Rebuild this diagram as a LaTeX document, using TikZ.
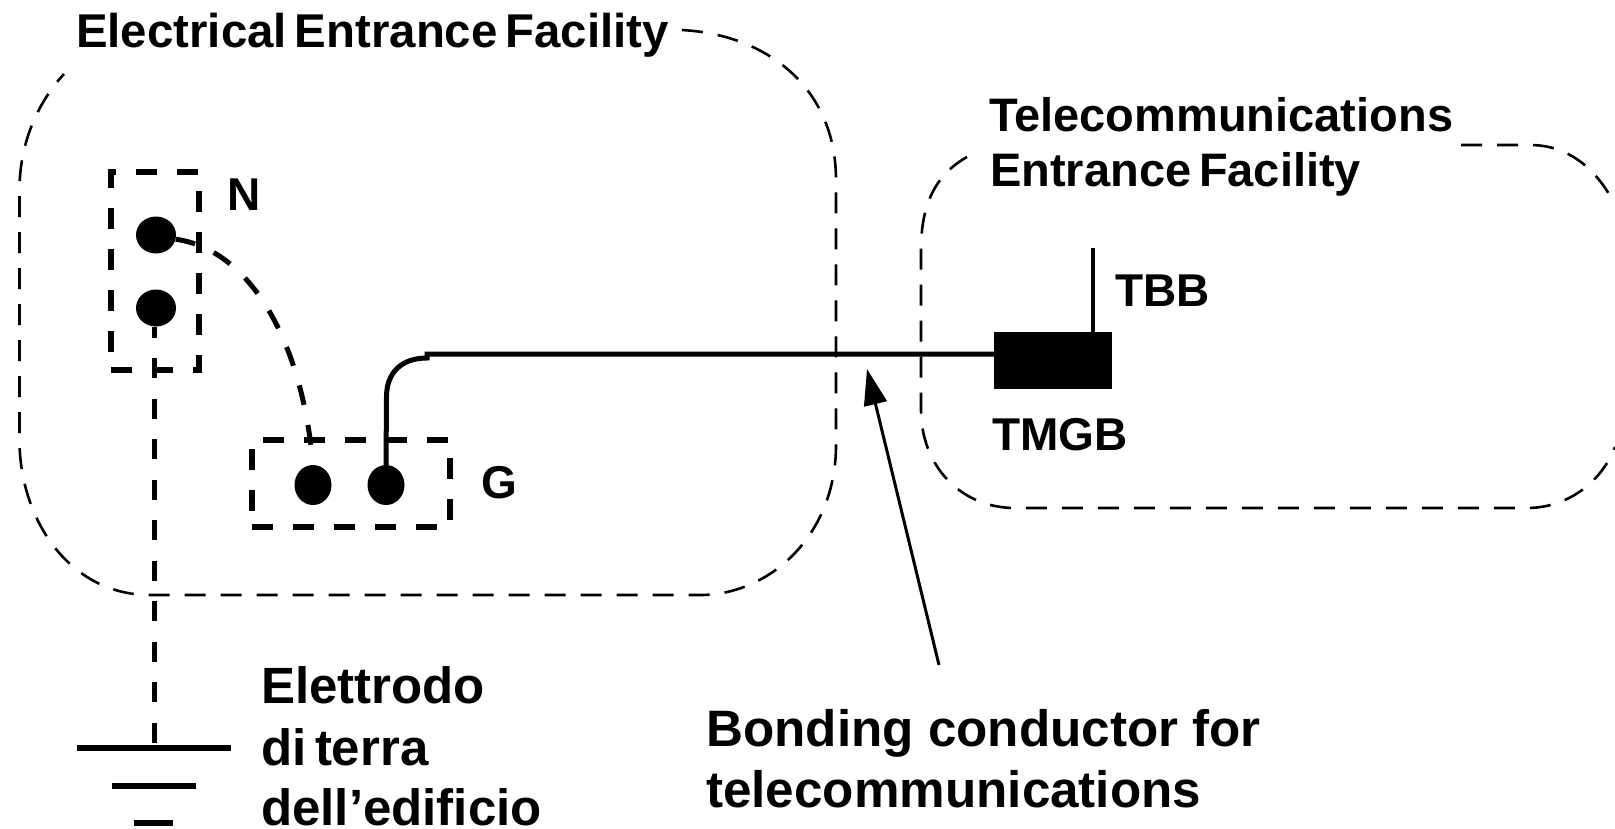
\documentclass[tikz,border=0pt]{standalone}
\usepackage{fontspec}
\setmainfont[WordSpace=0.6]{Liberation Sans}
\newfontfamily\bondfont{Liberation Sans}
\usepackage{tikz}
\usetikzlibrary{arrows.meta}
\usetikzlibrary{shapes.geometric}

\begin{document}
\begin{tikzpicture}[x=1pt,y=-1pt,
  label node/.style={anchor=base west,inner sep=0pt,font=\bfseries\fontsize{47}{50}\selectfont},
  large node/.style={anchor=base west,inner sep=0pt,font=\bfseries\fontsize{51}{55}\selectfont},
  bond node/.style={anchor=base west,inner sep=0pt,font=\bondfont\bfseries\fontsize{51.2}{55}\selectfont},
  small node/.style={anchor=base west,inner sep=0pt,font=\bfseries\fontsize{46}{50}\selectfont},
  dot node/.style={ellipse,fill=black,inner sep=0pt},
  dash box/.style={draw,line width=6pt,dash pattern=on 21pt off 20pt,inner sep=0pt},
  region/.style={line width=2.6pt,dash pattern=on 21pt off 15pt},
  wire/.style={line width=5pt},
  dash wire/.style={line width=5pt,dash pattern=on 20pt off 20.5pt}]

\useasboundingbox (0,0) rectangle (1615,828);

% regions
\coordinate (elecstart) at (682,30);
\coordinate (elecend) at (64,74);
\coordinate (telestart) at (967,157);
\coordinate (teleend) at (1615,447);
\coordinate (teletop) at (1461,145);
\coordinate (teleright) at (1615,205);

\draw[region] (elecstart) .. controls (770,35) and (836,90) .. (836,180) -- (836,445)
  .. controls (836,535) and (770,595) .. (700,595) -- (150,595)
  .. controls (70,595) and (19.5,520) .. (19.5,440) -- (19.5,190)
  .. controls (19.5,140) and (40,100) .. (elecend);
\draw[region] (telestart) .. controls (935,175) and (921,205) .. (921,250) -- (921,410)
  .. controls (921,465) and (960,508) .. (1015,508) -- (1527,508)
  .. controls (1565,508) and (1600,485) .. (teleend);
\draw[region] (teletop) -- (1530,145) .. controls (1565,145) and (1595,165) .. (teleright);

% boxes
\node[dash box,minimum width=88pt,minimum height=198pt] (boxN) at (155,271) {};
\node[dash box,minimum width=198pt,minimum height=87pt] (boxG) at (351,483.5) {};

\foreach \n/\x/\y/\w/\h in {dotNa/156/235/40/37,dotNb/156/308/40/37,dotGa/313/485/37/40,dotGb/386/485/37/40}{
  \node[dot node,minimum width=\w pt,minimum height=\h pt] (\n) at (\x,\y) {};
}

\node[draw,fill=black,inner sep=0pt,minimum width=117pt,minimum height=56pt] (tmgb) at (1052.5,360) {};

% ground
\coordinate (gndmid) at (154,748);
\coordinate (gndaw) at (77,748);
\coordinate (gndae) at (231,748);
\coordinate (gndbw) at (112,786);
\coordinate (gndbe) at (196,786);
\coordinate (gndcw) at (134,823);
\coordinate (gndce) at (173,823);
\draw[wire,line width=6pt] (gndaw) -- (gndae);
\draw[wire,line width=6pt] (gndbw) -- (gndbe);
\draw[wire,line width=6pt] (gndcw) -- (gndce);

% wires
\draw[dash wire,dash phase=9pt] (gndmid |- dotNb.south) -- (gndmid);
\draw[dash wire] (dotNa.-12) .. controls (250,250) and (302,340) .. (dotGa.north);
\draw[wire] (dotGb.north) -- (386.5,397) .. controls (386.5,372) and (402,358) .. (427,358)
  -- (427,354) -- (tmgb.west |- 0,354);

\coordinate (tbbtop) at (1093,248);
\draw[line width=4pt] (tbbtop) -- (tbbtop |- tmgb.north);

\coordinate (bondtip) at (867,369);
\coordinate (bondend) at (939,665);
\draw[line width=3pt,-{Triangle[length=36pt,width=23pt]}] (bondend) -- (bondtip);

% labels
\node[label node,font=\bfseries\fontsize{47.4}{50}\selectfont] (elecname) at (76,47) {Electrical Entrance Facility};
\node[label node] (telename) at (989,131) {Telecommunications};
\node[label node] (telename2) at (990,186) {Entrance Facility};
\node[small node] (nname) at (227,210) {N};
\node[small node] (gname) at (481,498) {G};
\node[small node] (tbbname) at (1115,306) {TBB};
\node[small node] (tmgbname) at (992,450) {TMGB};
\node[large node] (elettrodo) at (261,703) {Elettrodo};
\node[large node] (diterra) at (261,765) {di terra};
\node[large node] (edificio) at (261,825) {dell’edificio};
\node[bond node] (bonding) at (706,746) {Bonding conductor for};
\node[bond node] (bonding2) at (706,807) {telecommunications};
\end{tikzpicture}
\end{document}
